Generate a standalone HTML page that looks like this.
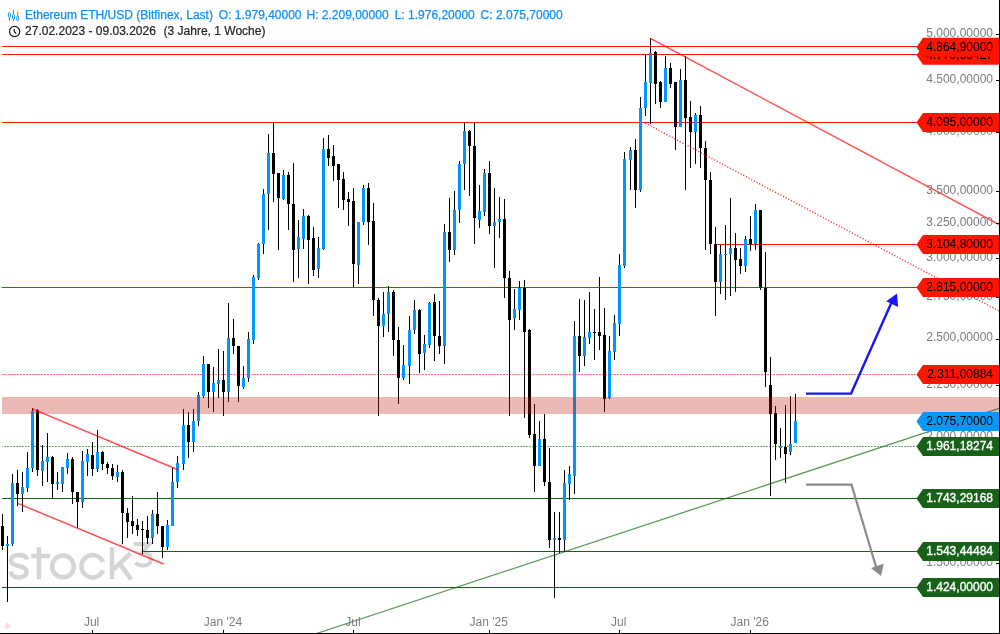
<!DOCTYPE html>
<html><head><meta charset="utf-8"><style>
html,body{margin:0;padding:0;background:#fff;}
svg{display:block;font-family:"Liberation Sans", sans-serif;will-change:transform;}
</style></head><body>
<svg width="1000" height="634" viewBox="0 0 1000 634">
<rect width="1000" height="634" fill="#fff"/>
<g fill="none" stroke="#d5d5d5" stroke-width="4.5"><circle cx="63" cy="566.4" r="10.85"/><path d="M102.94 562.0 A11.15 11.15 0 1 0 102.94 570.4"/><path d="M39 547.2 V579.2 M31.2 556 H50"/><path d="M112 547.2 V579.2 M130.4 553.4 L113.5 569.5 M119.3 563.2 L131.2 579.4"/><path d="M27.2 559.4 C26 555.6 22.5 555 19 555 C14 555 11 557 11 560.5 C11 564 14.5 565 19 566 C24 567 26.6 568.5 26.6 572 C26.6 575.5 23.5 577.4 19 577.4 C14.5 577.4 11.5 575.5 10.5 571.5"/></g>
<path d="M133.8 544 H149.5 L142 552.5 C148 552.5 151 555.5 151 559.5 C151 563.5 147.5 565.6 143 565.6 C139.5 565.6 137 564.3 135.5 562.5" fill="none" stroke="#d5d5d5" stroke-width="4"/>
<line x1="2" y1="46.5" x2="917" y2="46.5" stroke="#ff1400" stroke-width="1"/>
<line x1="2" y1="54.5" x2="917" y2="54.5" stroke="#ff1400" stroke-width="1"/>
<line x1="2" y1="122.5" x2="917" y2="122.5" stroke="#ff1400" stroke-width="1"/>
<line x1="716" y1="244.5" x2="917" y2="244.5" stroke="#ff1400" stroke-width="1"/>
<line x1="2" y1="287.5" x2="917" y2="287.5" stroke="#ff1400" stroke-width="1"/>
<line x1="2" y1="374.5" x2="917" y2="374.5" stroke="#ff6a60" stroke-width="1" stroke-dasharray="2,1" stroke-dashoffset="0"/>
<line x1="2" y1="446.5" x2="917" y2="446.5" stroke="#3f8a45" stroke-width="1" stroke-dasharray="1.5,1.5" stroke-dashoffset="0.8"/>
<line x1="2" y1="498.5" x2="917" y2="498.5" stroke="#176119" stroke-width="1"/>
<line x1="143" y1="551.5" x2="917" y2="551.5" stroke="#176119" stroke-width="1"/>
<line x1="2" y1="587.5" x2="917" y2="587.5" stroke="#176119" stroke-width="1"/>
<g shape-rendering="crispEdges"><rect x="2" y="514" width="1" height="36" fill="#000"/><rect x="1" y="526" width="3" height="20" fill="#000"/><rect x="7" y="536" width="1" height="66" fill="#000"/><rect x="6" y="544" width="3" height="2" fill="#0096ff"/><rect x="12" y="474" width="1" height="72" fill="#000"/><rect x="11" y="483" width="3" height="61" fill="#0096ff"/><rect x="17" y="470" width="1" height="36" fill="#000"/><rect x="16" y="483" width="3" height="11" fill="#000"/><rect x="22" y="472" width="1" height="40" fill="#000"/><rect x="21" y="487" width="3" height="7" fill="#0096ff"/><rect x="27" y="452" width="1" height="40" fill="#000"/><rect x="26" y="468" width="3" height="20" fill="#0096ff"/><rect x="32" y="408" width="1" height="64" fill="#000"/><rect x="31" y="411" width="3" height="57" fill="#0096ff"/><rect x="37" y="409" width="1" height="67" fill="#000"/><rect x="36" y="410" width="3" height="60" fill="#000"/><rect x="42" y="445" width="1" height="41" fill="#000"/><rect x="41" y="461" width="3" height="10" fill="#0096ff"/><rect x="47" y="433" width="1" height="49" fill="#000"/><rect x="46" y="457" width="3" height="5" fill="#0096ff"/><rect x="52" y="456" width="1" height="42" fill="#000"/><rect x="51" y="457" width="3" height="27" fill="#000"/><rect x="57" y="472" width="1" height="18" fill="#000"/><rect x="56" y="482" width="3" height="2" fill="#0096ff"/><rect x="62" y="467" width="1" height="25" fill="#000"/><rect x="61" y="467" width="3" height="17" fill="#0096ff"/><rect x="67" y="453" width="1" height="21" fill="#000"/><rect x="66" y="459" width="3" height="9" fill="#0096ff"/><rect x="72" y="457" width="1" height="47" fill="#000"/><rect x="71" y="459" width="3" height="33" fill="#000"/><rect x="77" y="492" width="1" height="36" fill="#000"/><rect x="76" y="492" width="3" height="10" fill="#000"/><rect x="82" y="451" width="1" height="57" fill="#000"/><rect x="81" y="461" width="3" height="41" fill="#0096ff"/><rect x="87" y="449" width="1" height="27" fill="#000"/><rect x="86" y="454" width="3" height="8" fill="#0096ff"/><rect x="92" y="442" width="1" height="34" fill="#000"/><rect x="91" y="455" width="3" height="14" fill="#000"/><rect x="97" y="430" width="1" height="42" fill="#000"/><rect x="96" y="452" width="3" height="17" fill="#0096ff"/><rect x="102" y="451" width="1" height="19" fill="#000"/><rect x="101" y="452" width="3" height="12" fill="#000"/><rect x="107" y="462" width="1" height="12" fill="#000"/><rect x="106" y="464" width="3" height="4" fill="#000"/><rect x="112" y="464" width="1" height="16" fill="#000"/><rect x="111" y="468" width="3" height="8" fill="#000"/><rect x="117" y="465" width="1" height="17" fill="#000"/><rect x="116" y="472" width="3" height="5" fill="#0096ff"/><rect x="122" y="470" width="1" height="74" fill="#000"/><rect x="121" y="472" width="3" height="41" fill="#000"/><rect x="127" y="508" width="1" height="30" fill="#000"/><rect x="126" y="513" width="3" height="9" fill="#000"/><rect x="132" y="496" width="1" height="38" fill="#000"/><rect x="131" y="521" width="3" height="5" fill="#000"/><rect x="137" y="519" width="1" height="17" fill="#000"/><rect x="136" y="525" width="3" height="5" fill="#000"/><rect x="142" y="521" width="1" height="33" fill="#000"/><rect x="141" y="529" width="3" height="1" fill="#000"/><rect x="147" y="516" width="1" height="28" fill="#000"/><rect x="146" y="530" width="3" height="8" fill="#000"/><rect x="152" y="510" width="1" height="34" fill="#000"/><rect x="151" y="514" width="3" height="24" fill="#0096ff"/><rect x="157" y="492" width="1" height="42" fill="#000"/><rect x="156" y="514" width="3" height="12" fill="#000"/><rect x="162" y="526" width="1" height="32" fill="#000"/><rect x="161" y="526" width="3" height="21" fill="#000"/><rect x="167" y="520" width="1" height="30" fill="#000"/><rect x="166" y="525" width="3" height="22" fill="#0096ff"/><rect x="172" y="468" width="1" height="58" fill="#000"/><rect x="171" y="482" width="3" height="44" fill="#0096ff"/><rect x="177" y="456" width="1" height="32" fill="#000"/><rect x="176" y="463" width="3" height="19" fill="#0096ff"/><rect x="183" y="409" width="1" height="61" fill="#000"/><rect x="182" y="425" width="3" height="39" fill="#0096ff"/><rect x="188" y="412" width="1" height="46" fill="#000"/><rect x="187" y="425" width="3" height="17" fill="#000"/><rect x="193" y="409" width="1" height="43" fill="#000"/><rect x="192" y="421" width="3" height="21" fill="#0096ff"/><rect x="198" y="392" width="1" height="34" fill="#000"/><rect x="197" y="395" width="3" height="26" fill="#0096ff"/><rect x="203" y="356" width="1" height="42" fill="#000"/><rect x="202" y="364" width="3" height="32" fill="#0096ff"/><rect x="208" y="364" width="1" height="44" fill="#000"/><rect x="207" y="364" width="3" height="28" fill="#000"/><rect x="213" y="367" width="1" height="45" fill="#000"/><rect x="212" y="383" width="3" height="9" fill="#0096ff"/><rect x="218" y="349" width="1" height="49" fill="#000"/><rect x="217" y="380" width="3" height="4" fill="#0096ff"/><rect x="223" y="351" width="1" height="65" fill="#000"/><rect x="222" y="380" width="3" height="12" fill="#000"/><rect x="228" y="303" width="1" height="99" fill="#000"/><rect x="227" y="338" width="3" height="54" fill="#0096ff"/><rect x="233" y="319" width="1" height="35" fill="#000"/><rect x="232" y="338" width="3" height="8" fill="#000"/><rect x="238" y="346" width="1" height="56" fill="#000"/><rect x="237" y="346" width="3" height="40" fill="#000"/><rect x="243" y="366" width="1" height="23" fill="#000"/><rect x="242" y="378" width="3" height="9" fill="#0096ff"/><rect x="248" y="332" width="1" height="50" fill="#000"/><rect x="247" y="339" width="3" height="39" fill="#0096ff"/><rect x="253" y="275" width="1" height="69" fill="#000"/><rect x="252" y="277" width="3" height="63" fill="#0096ff"/><rect x="258" y="243" width="1" height="37" fill="#000"/><rect x="257" y="244" width="3" height="34" fill="#0096ff"/><rect x="263" y="189" width="1" height="65" fill="#000"/><rect x="262" y="194" width="3" height="50" fill="#0096ff"/><rect x="268" y="134" width="1" height="96" fill="#000"/><rect x="267" y="153" width="3" height="41" fill="#0096ff"/><rect x="273" y="122" width="1" height="80" fill="#000"/><rect x="272" y="153" width="3" height="21" fill="#000"/><rect x="278" y="173" width="1" height="77" fill="#000"/><rect x="277" y="173" width="3" height="25" fill="#000"/><rect x="283" y="170" width="1" height="30" fill="#000"/><rect x="282" y="175" width="3" height="24" fill="#0096ff"/><rect x="288" y="172" width="1" height="58" fill="#000"/><rect x="287" y="175" width="3" height="29" fill="#000"/><rect x="293" y="163" width="1" height="119" fill="#000"/><rect x="292" y="204" width="3" height="46" fill="#000"/><rect x="298" y="220" width="1" height="58" fill="#000"/><rect x="297" y="237" width="3" height="12" fill="#0096ff"/><rect x="303" y="209" width="1" height="40" fill="#000"/><rect x="302" y="216" width="3" height="23" fill="#0096ff"/><rect x="308" y="215" width="1" height="69" fill="#000"/><rect x="307" y="216" width="3" height="24" fill="#000"/><rect x="313" y="227" width="1" height="49" fill="#000"/><rect x="312" y="238" width="3" height="32" fill="#000"/><rect x="318" y="237" width="1" height="41" fill="#000"/><rect x="317" y="248" width="3" height="21" fill="#0096ff"/><rect x="323" y="138" width="1" height="112" fill="#000"/><rect x="322" y="149" width="3" height="100" fill="#0096ff"/><rect x="328" y="135" width="1" height="31" fill="#000"/><rect x="327" y="149" width="3" height="9" fill="#000"/><rect x="333" y="145" width="1" height="36" fill="#000"/><rect x="332" y="156" width="3" height="10" fill="#000"/><rect x="338" y="164" width="1" height="44" fill="#000"/><rect x="337" y="164" width="3" height="16" fill="#000"/><rect x="343" y="172" width="1" height="38" fill="#000"/><rect x="342" y="179" width="3" height="21" fill="#000"/><rect x="348" y="192" width="1" height="34" fill="#000"/><rect x="347" y="199" width="3" height="3" fill="#000"/><rect x="353" y="188" width="1" height="99" fill="#000"/><rect x="352" y="201" width="3" height="63" fill="#000"/><rect x="358" y="222" width="1" height="62" fill="#000"/><rect x="357" y="222" width="3" height="43" fill="#0096ff"/><rect x="363" y="185" width="1" height="40" fill="#000"/><rect x="362" y="188" width="3" height="34" fill="#0096ff"/><rect x="368" y="183" width="1" height="62" fill="#000"/><rect x="367" y="188" width="3" height="34" fill="#000"/><rect x="373" y="203" width="1" height="113" fill="#000"/><rect x="372" y="221" width="3" height="79" fill="#000"/><rect x="378" y="298" width="1" height="118" fill="#000"/><rect x="377" y="300" width="3" height="26" fill="#000"/><rect x="383" y="292" width="1" height="45" fill="#000"/><rect x="382" y="314" width="3" height="12" fill="#0096ff"/><rect x="388" y="286" width="1" height="46" fill="#000"/><rect x="387" y="292" width="3" height="22" fill="#0096ff"/><rect x="393" y="290" width="1" height="66" fill="#000"/><rect x="392" y="292" width="3" height="48" fill="#000"/><rect x="398" y="327" width="1" height="77" fill="#000"/><rect x="397" y="340" width="3" height="38" fill="#000"/><rect x="403" y="345" width="1" height="35" fill="#000"/><rect x="402" y="365" width="3" height="13" fill="#0096ff"/><rect x="409" y="316" width="1" height="68" fill="#000"/><rect x="408" y="330" width="3" height="36" fill="#0096ff"/><rect x="414" y="300" width="1" height="34" fill="#000"/><rect x="413" y="310" width="3" height="20" fill="#0096ff"/><rect x="419" y="309" width="1" height="64" fill="#000"/><rect x="418" y="310" width="3" height="44" fill="#000"/><rect x="424" y="335" width="1" height="35" fill="#000"/><rect x="423" y="344" width="3" height="9" fill="#0096ff"/><rect x="429" y="302" width="1" height="46" fill="#000"/><rect x="428" y="303" width="3" height="42" fill="#0096ff"/><rect x="434" y="294" width="1" height="67" fill="#000"/><rect x="433" y="302" width="3" height="34" fill="#000"/><rect x="439" y="301" width="1" height="53" fill="#000"/><rect x="438" y="336" width="3" height="10" fill="#000"/><rect x="444" y="224" width="1" height="140" fill="#000"/><rect x="443" y="232" width="3" height="114" fill="#0096ff"/><rect x="449" y="198" width="1" height="64" fill="#000"/><rect x="448" y="232" width="3" height="18" fill="#000"/><rect x="454" y="191" width="1" height="64" fill="#000"/><rect x="453" y="210" width="3" height="40" fill="#0096ff"/><rect x="459" y="161" width="1" height="62" fill="#000"/><rect x="458" y="164" width="3" height="46" fill="#0096ff"/><rect x="464" y="123" width="1" height="67" fill="#000"/><rect x="463" y="131" width="3" height="33" fill="#0096ff"/><rect x="469" y="130" width="1" height="66" fill="#000"/><rect x="468" y="131" width="3" height="15" fill="#000"/><rect x="474" y="123" width="1" height="121" fill="#000"/><rect x="473" y="146" width="3" height="72" fill="#000"/><rect x="479" y="185" width="1" height="43" fill="#000"/><rect x="478" y="211" width="3" height="9" fill="#0096ff"/><rect x="484" y="169" width="1" height="47" fill="#000"/><rect x="483" y="173" width="3" height="39" fill="#0096ff"/><rect x="489" y="161" width="1" height="73" fill="#000"/><rect x="488" y="173" width="3" height="53" fill="#000"/><rect x="494" y="188" width="1" height="80" fill="#000"/><rect x="493" y="222" width="3" height="4" fill="#0096ff"/><rect x="499" y="197" width="1" height="41" fill="#000"/><rect x="498" y="219" width="3" height="3" fill="#0096ff"/><rect x="504" y="199" width="1" height="99" fill="#000"/><rect x="503" y="219" width="3" height="59" fill="#000"/><rect x="509" y="271" width="1" height="145" fill="#000"/><rect x="508" y="278" width="3" height="42" fill="#000"/><rect x="514" y="289" width="1" height="41" fill="#000"/><rect x="513" y="309" width="3" height="9" fill="#0096ff"/><rect x="519" y="281" width="1" height="39" fill="#000"/><rect x="518" y="288" width="3" height="22" fill="#0096ff"/><rect x="524" y="280" width="1" height="138" fill="#000"/><rect x="523" y="288" width="3" height="44" fill="#000"/><rect x="529" y="329" width="1" height="109" fill="#000"/><rect x="528" y="330" width="3" height="105" fill="#000"/><rect x="534" y="404" width="1" height="88" fill="#000"/><rect x="533" y="434" width="3" height="32" fill="#000"/><rect x="539" y="421" width="1" height="45" fill="#000"/><rect x="538" y="439" width="3" height="27" fill="#0096ff"/><rect x="544" y="414" width="1" height="72" fill="#000"/><rect x="543" y="439" width="3" height="43" fill="#000"/><rect x="549" y="448" width="1" height="100" fill="#000"/><rect x="548" y="482" width="3" height="58" fill="#000"/><rect x="554" y="512" width="1" height="86" fill="#000"/><rect x="553" y="538" width="3" height="2" fill="#0096ff"/><rect x="559" y="512" width="1" height="41" fill="#000"/><rect x="558" y="538" width="3" height="2" fill="#000"/><rect x="564" y="470" width="1" height="82" fill="#000"/><rect x="563" y="483" width="3" height="57" fill="#0096ff"/><rect x="569" y="466" width="1" height="34" fill="#000"/><rect x="568" y="474" width="3" height="10" fill="#0096ff"/><rect x="574" y="321" width="1" height="173" fill="#000"/><rect x="573" y="336" width="3" height="140" fill="#0096ff"/><rect x="579" y="299" width="1" height="73" fill="#000"/><rect x="578" y="336" width="3" height="20" fill="#000"/><rect x="584" y="300" width="1" height="66" fill="#000"/><rect x="583" y="337" width="3" height="19" fill="#0096ff"/><rect x="589" y="292" width="1" height="52" fill="#000"/><rect x="588" y="332" width="3" height="6" fill="#0096ff"/><rect x="594" y="309" width="1" height="51" fill="#000"/><rect x="593" y="332" width="3" height="1" fill="#000"/><rect x="599" y="277" width="1" height="73" fill="#000"/><rect x="598" y="332" width="3" height="4" fill="#000"/><rect x="604" y="308" width="1" height="104" fill="#000"/><rect x="603" y="335" width="3" height="64" fill="#000"/><rect x="609" y="336" width="1" height="63" fill="#000"/><rect x="608" y="351" width="3" height="47" fill="#0096ff"/><rect x="614" y="315" width="1" height="45" fill="#000"/><rect x="613" y="323" width="3" height="29" fill="#0096ff"/><rect x="619" y="254" width="1" height="82" fill="#000"/><rect x="618" y="265" width="3" height="59" fill="#0096ff"/><rect x="624" y="152" width="1" height="116" fill="#000"/><rect x="623" y="159" width="3" height="107" fill="#0096ff"/><rect x="630" y="147" width="1" height="43" fill="#000"/><rect x="629" y="150" width="3" height="10" fill="#0096ff"/><rect x="635" y="139" width="1" height="69" fill="#000"/><rect x="634" y="150" width="3" height="40" fill="#000"/><rect x="640" y="97" width="1" height="95" fill="#000"/><rect x="639" y="108" width="3" height="82" fill="#0096ff"/><rect x="645" y="55" width="1" height="61" fill="#000"/><rect x="644" y="82" width="3" height="26" fill="#0096ff"/><rect x="650" y="38" width="1" height="86" fill="#000"/><rect x="649" y="53" width="3" height="30" fill="#0096ff"/><rect x="655" y="51" width="1" height="53" fill="#000"/><rect x="654" y="52" width="3" height="32" fill="#000"/><rect x="660" y="81" width="1" height="27" fill="#000"/><rect x="659" y="82" width="3" height="20" fill="#000"/><rect x="665" y="56" width="1" height="46" fill="#000"/><rect x="664" y="68" width="3" height="34" fill="#0096ff"/><rect x="670" y="63" width="1" height="25" fill="#000"/><rect x="669" y="68" width="3" height="16" fill="#000"/><rect x="675" y="82" width="1" height="68" fill="#000"/><rect x="674" y="82" width="3" height="45" fill="#000"/><rect x="680" y="69" width="1" height="58" fill="#000"/><rect x="679" y="80" width="3" height="47" fill="#0096ff"/><rect x="685" y="56" width="1" height="134" fill="#000"/><rect x="684" y="80" width="3" height="38" fill="#000"/><rect x="690" y="101" width="1" height="67" fill="#000"/><rect x="689" y="117" width="3" height="15" fill="#000"/><rect x="695" y="113" width="1" height="51" fill="#000"/><rect x="694" y="115" width="3" height="17" fill="#0096ff"/><rect x="700" y="106" width="1" height="62" fill="#000"/><rect x="699" y="115" width="3" height="33" fill="#000"/><rect x="705" y="141" width="1" height="109" fill="#000"/><rect x="704" y="148" width="3" height="32" fill="#000"/><rect x="710" y="172" width="1" height="82" fill="#000"/><rect x="709" y="180" width="3" height="64" fill="#000"/><rect x="715" y="227" width="1" height="89" fill="#000"/><rect x="714" y="244" width="3" height="38" fill="#000"/><rect x="720" y="245" width="1" height="49" fill="#000"/><rect x="719" y="254" width="3" height="28" fill="#0096ff"/><rect x="725" y="225" width="1" height="75" fill="#000"/><rect x="724" y="254" width="3" height="1" fill="#0096ff"/><rect x="730" y="198" width="1" height="98" fill="#000"/><rect x="729" y="248" width="3" height="6" fill="#0096ff"/><rect x="735" y="233" width="1" height="59" fill="#000"/><rect x="734" y="248" width="3" height="12" fill="#000"/><rect x="740" y="248" width="1" height="26" fill="#000"/><rect x="739" y="259" width="3" height="7" fill="#000"/><rect x="745" y="236" width="1" height="36" fill="#000"/><rect x="744" y="239" width="3" height="27" fill="#0096ff"/><rect x="750" y="216" width="1" height="35" fill="#000"/><rect x="749" y="239" width="3" height="5" fill="#000"/><rect x="755" y="204" width="1" height="46" fill="#000"/><rect x="754" y="210" width="3" height="34" fill="#0096ff"/><rect x="760" y="210" width="1" height="80" fill="#000"/><rect x="759" y="210" width="3" height="78" fill="#000"/><rect x="765" y="252" width="1" height="135" fill="#000"/><rect x="764" y="288" width="3" height="84" fill="#000"/><rect x="770" y="357" width="1" height="139" fill="#000"/><rect x="769" y="385" width="3" height="29" fill="#000"/><rect x="775" y="406" width="1" height="54" fill="#000"/><rect x="774" y="413" width="3" height="31" fill="#000"/><rect x="780" y="428" width="1" height="30" fill="#000"/><rect x="779" y="446" width="3" height="2" fill="#0096ff"/><rect x="785" y="405" width="1" height="78" fill="#000"/><rect x="784" y="447" width="3" height="7" fill="#000"/><rect x="790" y="396" width="1" height="59" fill="#000"/><rect x="789" y="444" width="3" height="8" fill="#0096ff"/><rect x="795" y="394" width="1" height="49" fill="#000"/><rect x="794" y="421" width="3" height="22" fill="#0096ff"/></g>
<rect x="2" y="397" width="998" height="17" fill="rgb(195,28,20)" fill-opacity="0.31" shape-rendering="crispEdges"/>
<line x1="32.4" y1="408.9" x2="178.5" y2="470" stroke="#ff0000" stroke-opacity="0.7" stroke-width="1.45"/>
<line x1="17.4" y1="503.2" x2="163.6" y2="564" stroke="#ff0000" stroke-opacity="0.7" stroke-width="1.45"/>
<line x1="650.4" y1="38.4" x2="1000" y2="225" stroke="#ff0000" stroke-opacity="0.7" stroke-width="1.45"/>
<line x1="645.2" y1="123.1" x2="1000" y2="311.5" stroke="#ff0000" stroke-opacity="0.8" stroke-width="1.4" stroke-dasharray="1.2,1.8"/>
<line x1="315" y1="634" x2="1000" y2="408" stroke="#006400" stroke-opacity="0.66" stroke-width="1.25"/>
<polyline points="806,393.6 851.1,393.6 891.5,302.5" fill="none" stroke="#1818f5" stroke-width="2.4"/>
<polygon points="897,293.6 886.2,301.2 898.1,306.9" fill="#1818f5"/>
<polyline points="806,484.6 851.5,484.6 877,570" fill="none" stroke="#8c8a8a" stroke-width="2.2"/>
<polygon points="881,576 871,568.1 883.7,563.75" fill="#8c8a8a"/>
<rect x="996" y="34" width="3" height="1" fill="#000" shape-rendering="crispEdges"/>
<text x="993" y="36.6" text-anchor="end" font-size="12" fill="#7c7c7c">5.000,00000</text>
<rect x="996" y="80" width="3" height="1" fill="#000" shape-rendering="crispEdges"/>
<text x="993" y="82.9" text-anchor="end" font-size="12" fill="#7c7c7c">4.500,00000</text>
<rect x="996" y="132" width="3" height="1" fill="#000" shape-rendering="crispEdges"/>
<text x="993" y="134.7" text-anchor="end" font-size="12" fill="#7c7c7c">4.000,00000</text>
<rect x="996" y="191" width="3" height="1" fill="#000" shape-rendering="crispEdges"/>
<text x="993" y="193.5" text-anchor="end" font-size="12" fill="#7c7c7c">3.500,00000</text>
<rect x="996" y="223" width="3" height="1" fill="#000" shape-rendering="crispEdges"/>
<text x="993" y="226.0" text-anchor="end" font-size="12" fill="#7c7c7c">3.250,00000</text>
<rect x="996" y="258" width="3" height="1" fill="#000" shape-rendering="crispEdges"/>
<text x="993" y="261.2" text-anchor="end" font-size="12" fill="#7c7c7c">3.000,00000</text>
<rect x="996" y="297" width="3" height="1" fill="#000" shape-rendering="crispEdges"/>
<text x="993" y="299.5" text-anchor="end" font-size="12" fill="#7c7c7c">2.750,00000</text>
<rect x="996" y="339" width="3" height="1" fill="#000" shape-rendering="crispEdges"/>
<text x="993" y="341.4" text-anchor="end" font-size="12" fill="#7c7c7c">2.500,00000</text>
<rect x="996" y="385" width="3" height="1" fill="#000" shape-rendering="crispEdges"/>
<text x="993" y="387.8" text-anchor="end" font-size="12" fill="#7c7c7c">2.250,00000</text>
<rect x="996" y="437" width="3" height="1" fill="#000" shape-rendering="crispEdges"/>
<text x="993" y="439.6" text-anchor="end" font-size="12" fill="#7c7c7c">2.000,00000</text>
<rect x="996" y="563" width="3" height="1" fill="#000" shape-rendering="crispEdges"/>
<text x="993" y="566.1" text-anchor="end" font-size="12" fill="#7c7c7c">1.500,00000</text>
<polygon points="1000,45.7 923,45.7 916.5,55.2 923,64.7 1000,64.7" fill="#ff1400"/>
<text x="993" y="58.8" text-anchor="end" font-size="12" fill="#000">4.776,36427</text>
<polygon points="1000,37.8 923,37.8 916.5,47.3 923,56.8 1000,56.8" fill="#ff1400"/>
<text x="993" y="50.9" text-anchor="end" font-size="12" fill="#000">4.864,90000</text>
<polygon points="1000,113.0 923,113.0 916.5,122.5 923,132.0 1000,132.0" fill="#ff1400"/>
<text x="993" y="126.1" text-anchor="end" font-size="12" fill="#000">4.095,00000</text>
<polygon points="1000,235.0 923,235.0 916.5,244.5 923,254.0 1000,254.0" fill="#ff1400"/>
<text x="993" y="248.1" text-anchor="end" font-size="12" fill="#000">3.104,80000</text>
<polygon points="1000,278.0 923,278.0 916.5,287.5 923,297.0 1000,297.0" fill="#ff1400"/>
<text x="993" y="291.1" text-anchor="end" font-size="12" fill="#000">2.815,00000</text>
<polygon points="1000,365.0 923,365.0 916.5,374.5 923,384.0 1000,384.0" fill="#ff1400"/>
<text x="993" y="378.1" text-anchor="end" font-size="12" fill="#000">2.311,00884</text>
<polygon points="1000,412.0 923,412.0 916.5,421.5 923,431.0 1000,431.0" fill="#0a96f5"/>
<text x="993" y="425.1" text-anchor="end" font-size="12" fill="#000">2.075,70000</text>
<polygon points="1000,437.0 923,437.0 916.5,446.5 923,456.0 1000,456.0" fill="#176119"/>
<text x="993" y="450.1" text-anchor="end" font-size="12" fill="#fff" stroke="#fff" stroke-width="0.35">1.961,18274</text>
<polygon points="1000,489.0 923,489.0 916.5,498.5 923,508.0 1000,508.0" fill="#176119"/>
<text x="993" y="502.1" text-anchor="end" font-size="12" fill="#fff" stroke="#fff" stroke-width="0.35">1.743,29168</text>
<polygon points="1000,542.0 923,542.0 916.5,551.5 923,561.0 1000,561.0" fill="#176119"/>
<text x="993" y="555.1" text-anchor="end" font-size="12" fill="#fff" stroke="#fff" stroke-width="0.35">1.543,44484</text>
<polygon points="1000,578.0 923,578.0 916.5,587.5 923,597.0 1000,597.0" fill="#176119"/>
<text x="993" y="591.1" text-anchor="end" font-size="12" fill="#fff" stroke="#fff" stroke-width="0.35">1.424,00000</text>
<rect x="999" y="0" width="1" height="634" fill="#000" shape-rendering="crispEdges"/>
<rect x="0" y="633" width="1000" height="1" fill="#000" shape-rendering="crispEdges"/>
<rect x="92" y="630" width="1" height="3" fill="#000" shape-rendering="crispEdges"/>
<text x="91.6" y="626" text-anchor="middle" font-size="12" fill="#7c7c7c">Jul</text>
<rect x="223" y="630" width="1" height="3" fill="#000" shape-rendering="crispEdges"/>
<text x="222.9" y="626" text-anchor="middle" font-size="12" fill="#7c7c7c">Jan '24</text>
<rect x="353" y="630" width="1" height="3" fill="#000" shape-rendering="crispEdges"/>
<text x="352.9" y="626" text-anchor="middle" font-size="12" fill="#7c7c7c">Jul</text>
<rect x="489" y="630" width="1" height="3" fill="#000" shape-rendering="crispEdges"/>
<text x="488.7" y="626" text-anchor="middle" font-size="12" fill="#7c7c7c">Jan '25</text>
<rect x="619" y="630" width="1" height="3" fill="#000" shape-rendering="crispEdges"/>
<text x="618.7" y="626" text-anchor="middle" font-size="12" fill="#7c7c7c">Jul</text>
<rect x="750" y="630" width="1" height="3" fill="#000" shape-rendering="crispEdges"/>
<text x="749.7" y="626" text-anchor="middle" font-size="12" fill="#7c7c7c">Jan '26</text>
<path d="M7.5 623 L10.5 626 L7.5 629 L4.5 626 Z" fill="#fbe3e3" stroke="#f6caca" stroke-width="0.7"/>
<g fill="none" stroke="#0b90fb" stroke-width="0.95"><path d="M9.4 17.3 V20.9 M13.5 9.8 V14 M13.5 19.1 V20.9 M17.7 12 V15.9"/><rect x="8.4" y="12.6" width="2" height="4.7" rx="0.9"/><rect x="12.5" y="14.4" width="2" height="4.7" rx="0.9"/><rect x="16.7" y="16.2" width="2" height="4.5" rx="0.9"/></g>
<g fill="none" stroke="#111" stroke-width="1.15"><circle cx="14.6" cy="31.5" r="5.1"/><path d="M14.3 28.9 V31.8 L16.3 33.5"/></g>
<text x="24.9" y="18.7" font-size="12" fill="#0b90fb" stroke="#0b90fb" stroke-width="0.25" xml:space="preserve">Ethereum ETH/USD (Bitfinex, Last)</text>
<text x="218.8" y="18.7" font-size="12" fill="#0b90fb" stroke="#0b90fb" stroke-width="0.25" xml:space="preserve">O: 1.979,40000</text>
<text x="306.5" y="18.7" font-size="12" fill="#0b90fb" stroke="#0b90fb" stroke-width="0.25" xml:space="preserve">H: 2.209,00000</text>
<text x="394.7" y="18.7" font-size="12" fill="#0b90fb" stroke="#0b90fb" stroke-width="0.25" xml:space="preserve">L: 1.976,20000</text>
<text x="480.6" y="18.7" font-size="12" fill="#0b90fb" stroke="#0b90fb" stroke-width="0.25" xml:space="preserve">C: 2.075,70000</text>
<text x="25.1" y="34.5" font-size="12" fill="#222" stroke="#222" stroke-width="0.2">27.02.2023 - 09.03.2026</text>
<text x="163.6" y="34.5" font-size="12" fill="#222" stroke="#222" stroke-width="0.2">(3 Jahre, 1 Woche)</text>
</svg></body></html>
